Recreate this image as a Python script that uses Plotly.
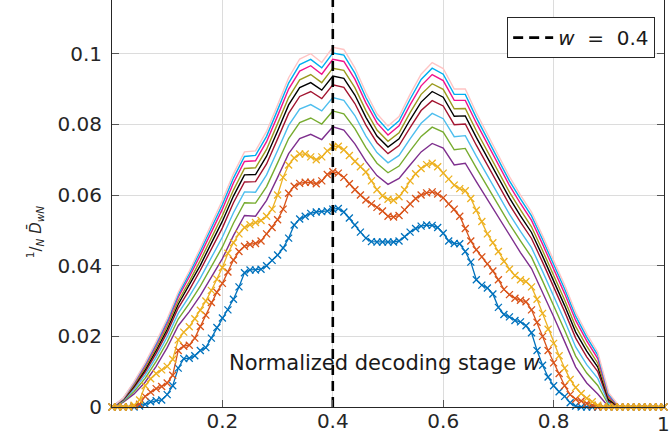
import plotly.graph_objects as go

# ---------------- data ----------------
# fine grid (marker series)
X_FINE = [0.00, 0.01, 0.02, 0.03, 0.04, 0.05, 0.06, 0.07, 0.08, 0.09,
          0.10, 0.11, 0.12, 0.13, 0.14, 0.15, 0.16, 0.17, 0.18, 0.19,
          0.20, 0.21, 0.22, 0.23, 0.24, 0.25, 0.26, 0.27, 0.28, 0.29,
          0.30, 0.31, 0.32, 0.33, 0.34, 0.35, 0.36, 0.37, 0.38, 0.39,
          0.40, 0.41, 0.42, 0.43, 0.44, 0.45, 0.46, 0.47, 0.48, 0.49,
          0.50, 0.51, 0.52, 0.53, 0.54, 0.55, 0.56, 0.57, 0.58, 0.59,
          0.60, 0.61, 0.62, 0.63, 0.64, 0.65, 0.66, 0.67, 0.68, 0.69,
          0.70, 0.71, 0.72, 0.73, 0.74, 0.75, 0.76, 0.77, 0.78, 0.79,
          0.80, 0.81, 0.82, 0.83, 0.84, 0.85, 0.86, 0.87, 0.88, 0.89,
          0.90, 0.91, 0.92, 0.93, 0.94, 0.95, 0.96, 0.97, 0.98, 0.99, 1.00]

BLUE = [0, 0, 0, 0, 0, 0.0003, 0.0008, 0.0015, 0.0018, 0.0020,
        0.0035, 0.0060, 0.0110, 0.0137, 0.0138, 0.0145, 0.0160, 0.0168, 0.0195, 0.0225,
        0.0252, 0.0275, 0.0305, 0.0340, 0.0380, 0.0388, 0.0388, 0.0390, 0.0400, 0.0415,
        0.0430, 0.0450, 0.0478, 0.0515, 0.0532, 0.0540, 0.0548, 0.0552, 0.0553, 0.0555,
        0.0560, 0.0562, 0.0552, 0.0535, 0.0515, 0.0495, 0.0478, 0.0468, 0.0467, 0.0467,
        0.0467, 0.0467, 0.0470, 0.0482, 0.0495, 0.0505, 0.0512, 0.0515, 0.0514, 0.0508,
        0.0492, 0.0470, 0.0463, 0.0462, 0.0440, 0.0410, 0.0360, 0.0345, 0.0337, 0.0320,
        0.0282, 0.0262, 0.0255, 0.0245, 0.0241, 0.0230, 0.0210, 0.0160, 0.0118, 0.0085,
        0.0060, 0.0043, 0.0030, 0.0012, 0.0003, 0, 0, 0, 0, 0,
        0, 0, 0, 0, 0, 0, 0, 0, 0, 0, 0]

ORANGE = [0, 0, 0, 0, 0.0003, 0.0008, 0.0030, 0.0042, 0.0052, 0.0058,
          0.0068, 0.0090, 0.0160, 0.0172, 0.0175, 0.0195, 0.0228, 0.0260, 0.0296, 0.0325,
          0.0350, 0.0382, 0.0416, 0.0440, 0.0455, 0.0460, 0.0463, 0.0470, 0.0490, 0.0508,
          0.0530, 0.0560, 0.0605, 0.0625, 0.0633, 0.0636, 0.0636, 0.0632, 0.0640, 0.0658,
          0.0666, 0.0662, 0.0650, 0.0632, 0.0615, 0.0600, 0.0586, 0.0575, 0.0565, 0.0555,
          0.0540, 0.0538, 0.0542, 0.0558, 0.0575, 0.0590, 0.0600, 0.0606, 0.0609, 0.0603,
          0.0592, 0.0575, 0.0560, 0.0540, 0.0505, 0.0470, 0.0445, 0.0425, 0.0405, 0.0385,
          0.0360, 0.0333, 0.0318, 0.0308, 0.0302, 0.0298, 0.0275, 0.0240, 0.0200, 0.0160,
          0.0125, 0.0095, 0.0060, 0.0035, 0.0022, 0.0017, 0.0010, 0.0005, 0, 0,
          0, 0, 0, 0, 0, 0, 0, 0, 0, 0, 0]

YELLOW = [0, 0, 0, 0, 0.0005, 0.0020, 0.0060, 0.0080, 0.0095, 0.0105,
          0.0115, 0.0135, 0.0190, 0.0212, 0.0227, 0.0250, 0.0274, 0.0300, 0.0330, 0.0362,
          0.0395, 0.0435, 0.0465, 0.0490, 0.0508, 0.0516, 0.0522, 0.0528, 0.0540, 0.0560,
          0.0600, 0.0650, 0.0685, 0.0705, 0.0716, 0.0716, 0.0708, 0.0700, 0.0708, 0.0725,
          0.0736, 0.0738, 0.0728, 0.0712, 0.0695, 0.0680, 0.0665, 0.0640, 0.0615, 0.0598,
          0.0588, 0.0585, 0.0595, 0.0615, 0.0640, 0.0660, 0.0675, 0.0686, 0.0690, 0.0680,
          0.0662, 0.0645, 0.0628, 0.0618, 0.0612, 0.0590, 0.0557, 0.0525, 0.0490, 0.0465,
          0.0440, 0.0412, 0.0390, 0.0372, 0.0360, 0.0355, 0.0340, 0.0305, 0.0265, 0.0220,
          0.0180, 0.0145, 0.0110, 0.0078, 0.0055, 0.0038, 0.0025, 0.0015, 0.0005, 0,
          0, 0, 0, 0, 0, 0, 0, 0, 0, 0, 0]

# coarse grid (plain line series)
X_COARSE = [0.00, 0.02, 0.04, 0.06, 0.08, 0.10, 0.12, 0.14, 0.16, 0.18,
            0.20, 0.22, 0.24, 0.26, 0.28, 0.30, 0.32, 0.34, 0.36, 0.38,
            0.40, 0.42, 0.44, 0.46, 0.48, 0.50, 0.52, 0.54, 0.56, 0.58,
            0.60, 0.62, 0.64, 0.66, 0.68, 0.70, 0.72, 0.74, 0.76, 0.78,
            0.80, 0.82, 0.84, 0.86, 0.88, 0.90, 0.92, 0.94, 0.96, 0.98, 1.00]

PURPLE = [0, 0.0013, 0.0037, 0.0070, 0.0115, 0.0168, 0.0230, 0.0270, 0.0315, 0.0368,
          0.0420, 0.0485, 0.0542, 0.0540, 0.0585, 0.0650, 0.0717, 0.0760, 0.0772, 0.0757,
          0.0793, 0.0784, 0.0745, 0.0695, 0.0655, 0.0630, 0.0647, 0.0685, 0.0722, 0.0746,
          0.0733, 0.0685, 0.0690, 0.0638, 0.0587, 0.0535, 0.0484, 0.0437, 0.0392, 0.0325,
          0.0256, 0.0185, 0.0113, 0.0068, 0.0037, 0, 0, 0, 0, 0, 0]
GREEN = [0, 0.0015, 0.0044, 0.0081, 0.0129, 0.0184, 0.0249, 0.0293, 0.0342, 0.0398,
         0.0453, 0.0520, 0.0578, 0.0577, 0.0624, 0.0691, 0.0760, 0.0805, 0.0818, 0.0801,
         0.0838, 0.0830, 0.0788, 0.0734, 0.0690, 0.0663, 0.0682, 0.0725, 0.0766, 0.0792,
         0.0778, 0.0728, 0.0732, 0.0677, 0.0624, 0.0570, 0.0518, 0.0470, 0.0424, 0.0357,
         0.0288, 0.0217, 0.0144, 0.0096, 0.0061, 0.0005, 0, 0, 0, 0, 0]
LIGHTBLUE = [0, 0.0017, 0.0050, 0.0090, 0.0141, 0.0198, 0.0265, 0.0313, 0.0365, 0.0423,
             0.0481, 0.0550, 0.0609, 0.0608, 0.0657, 0.0726, 0.0797, 0.0843, 0.0856, 0.0838,
             0.0876, 0.0868, 0.0825, 0.0767, 0.0720, 0.0691, 0.0712, 0.0759, 0.0803, 0.0831,
             0.0816, 0.0765, 0.0768, 0.0710, 0.0655, 0.0600, 0.0546, 0.0497, 0.0451, 0.0384,
             0.0315, 0.0244, 0.0170, 0.0120, 0.0081, 0.0010, 0, 0, 0, 0, 0]
DARKRED = [0, 0.0019, 0.0056, 0.0099, 0.0152, 0.0211, 0.0280, 0.0331, 0.0387, 0.0447,
           0.0507, 0.0578, 0.0637, 0.0638, 0.0688, 0.0759, 0.0831, 0.0879, 0.0893, 0.0873,
           0.0912, 0.0905, 0.0859, 0.0798, 0.0748, 0.0717, 0.0740, 0.0791, 0.0839, 0.0867,
           0.0852, 0.0799, 0.0801, 0.0741, 0.0685, 0.0628, 0.0573, 0.0523, 0.0477, 0.0410,
           0.0341, 0.0270, 0.0195, 0.0142, 0.0100, 0.0015, 0, 0, 0, 0, 0]
BLACK = [0, 0.0021, 0.0059, 0.0105, 0.0160, 0.0220, 0.0291, 0.0344, 0.0401, 0.0464,
         0.0526, 0.0597, 0.0657, 0.0658, 0.0710, 0.0781, 0.0855, 0.0904, 0.0918, 0.0897,
         0.0937, 0.0930, 0.0883, 0.0820, 0.0767, 0.0736, 0.0759, 0.0813, 0.0863, 0.0893,
         0.0877, 0.0823, 0.0824, 0.0763, 0.0705, 0.0647, 0.0592, 0.0541, 0.0494, 0.0427,
         0.0358, 0.0287, 0.0212, 0.0158, 0.0113, 0.0020, 0, 0, 0, 0, 0]
OLIVE = [0, 0.0022, 0.0063, 0.0111, 0.0167, 0.0229, 0.0300, 0.0355, 0.0415, 0.0479,
         0.0542, 0.0614, 0.0675, 0.0677, 0.0729, 0.0802, 0.0876, 0.0926, 0.0941, 0.0918,
         0.0959, 0.0953, 0.0904, 0.0839, 0.0784, 0.0752, 0.0776, 0.0833, 0.0885, 0.0915,
         0.0899, 0.0844, 0.0845, 0.0782, 0.0724, 0.0664, 0.0608, 0.0558, 0.0510, 0.0443,
         0.0374, 0.0303, 0.0228, 0.0172, 0.0124, 0.0025, 0, 0, 0, 0, 0]
MAGENTA = [0, 0.0023, 0.0067, 0.0117, 0.0175, 0.0238, 0.0311, 0.0368, 0.0430, 0.0495,
           0.0560, 0.0634, 0.0695, 0.0697, 0.0751, 0.0824, 0.0900, 0.0951, 0.0966, 0.0942,
           0.0984, 0.0978, 0.0928, 0.0861, 0.0804, 0.0770, 0.0796, 0.0855, 0.0909, 0.0941,
           0.0924, 0.0868, 0.0868, 0.0804, 0.0744, 0.0684, 0.0627, 0.0576, 0.0528, 0.0461,
           0.0392, 0.0321, 0.0245, 0.0187, 0.0137, 0.0030, 0, 0, 0, 0, 0]
CYAN = [0, 0.0024, 0.0070, 0.0121, 0.0180, 0.0244, 0.0318, 0.0377, 0.0441, 0.0507,
        0.0573, 0.0648, 0.0709, 0.0712, 0.0766, 0.0841, 0.0917, 0.0969, 0.0984, 0.0960,
        0.1002, 0.0996, 0.0945, 0.0876, 0.0818, 0.0783, 0.0810, 0.0871, 0.0927, 0.0959,
        0.0942, 0.0885, 0.0885, 0.0819, 0.0759, 0.0698, 0.0640, 0.0589, 0.0541, 0.0474,
        0.0405, 0.0334, 0.0257, 0.0198, 0.0147, 0.0035, 0, 0, 0, 0, 0]
PINK = [0, 0.0025, 0.0072, 0.0125, 0.0185, 0.0250, 0.0325, 0.0385, 0.0450, 0.0518,
        0.0585, 0.0660, 0.0722, 0.0725, 0.0780, 0.0855, 0.0932, 0.0985, 0.1000, 0.0975,
        0.1018, 0.1012, 0.0960, 0.0890, 0.0830, 0.0795, 0.0822, 0.0885, 0.0942, 0.0975,
        0.0958, 0.0900, 0.0900, 0.0833, 0.0772, 0.0710, 0.0652, 0.0600, 0.0552, 0.0485,
        0.0416, 0.0345, 0.0268, 0.0208, 0.0155, 0.0040, 0, 0, 0, 0, 0]

W_MARK = 0.4
LEGEND_LABEL = "<i>w</i>\u00a0\u00a0=\u00a0\u00a00.4"
X_TICKS = [0.2, 0.4, 0.6, 0.8]
X_TICKTEXT = ["0.2", "0.4", "0.6", "0.8"]
X_LAST_TICK = 1.0
X_LAST_TEXT = "1"
Y_TICKS = [0, 0.02, 0.04, 0.06, 0.08, 0.1]
Y_TICKTEXT = ["0", "0.02", "0.04", "0.06", "0.08", "0.1"]
Y_MAX = 0.1152
X_TITLE = "Normalized decoding stage <i>w</i>"
Y_TITLE = "<sup>1</sup>/<sub><i>N</i></sub> <i>D\u0304</i><sub><i>wN</i></sub>"

# ---------------- figure ----------------
fig = go.Figure()

line_series = [
    (PURPLE, "#7E2F8E"),
    (GREEN, "#77AC30"),
    (LIGHTBLUE, "#4DBEEE"),
    (DARKRED, "#A2142F"),
    (BLACK, "#000000"),
    (OLIVE, "#9A9A1E"),
    (MAGENTA, "#F0148C"),
    (CYAN, "#00AEEF"),
    (PINK, "#FFC4C4"),
]
for ys, col in line_series:
    fig.add_trace(go.Scatter(x=X_COARSE, y=ys, mode="lines",
                             line=dict(color=col, width=1.4),
                             showlegend=False, hoverinfo="skip", cliponaxis=False))

marker_series = [
    (BLUE, "#0072BD"),
    (ORANGE, "#D95319"),
    (YELLOW, "#EDB120"),
]
for ys, col in marker_series:
    fig.add_trace(go.Scatter(x=X_FINE, y=ys, mode="lines+markers",
                             line=dict(color=col, width=1.3),
                             marker=dict(symbol="x-thin", size=7,
                                         line=dict(color=col, width=1.3)),
                             showlegend=False, hoverinfo="skip", cliponaxis=False))

fig.add_trace(go.Scatter(x=[W_MARK, W_MARK], y=[0, Y_MAX], mode="lines",
                         line=dict(color="black", width=2.6, dash="10px,6px"),
                         name=LEGEND_LABEL, showlegend=True, hoverinfo="skip"))

fig.add_annotation(x=0.495, y=0.108, xref="paper", yref="paper",
                   xanchor="center", yanchor="middle",
                   text=X_TITLE, showarrow=False,
                   font=dict(size=21, color="#1a1a1a"))
fig.add_annotation(x=-0.139, y=0.43, xref="paper", yref="paper",
                   xanchor="center", yanchor="middle",
                   text=Y_TITLE, textangle=-90, showarrow=False,
                   font=dict(size=15, color="#262626"))
# last x tick label sits on the right frame edge (partly outside, as in the source)
fig.add_annotation(x=X_LAST_TICK, y=0, xref="x", yref="paper",
                   xanchor="center", yanchor="top", yshift=-3, xshift=-1,
                   text=X_LAST_TEXT, showarrow=False,
                   font=dict(size=20, color="#262626"))

axis_common = dict(showgrid=True, gridcolor="#DCDCDC", gridwidth=1,
                   showline=True, linecolor="#262626", linewidth=1,
                   ticks="inside", ticklen=7,
                   tickcolor="#555555", zeroline=False, automargin=False,
                   ticklabeloverflow="allow")

fig.update_layout(
    width=669, height=435,
    margin=dict(l=112, r=5, t=0, b=28),
    paper_bgcolor="white", plot_bgcolor="white",
    font=dict(family="DejaVu Sans", size=20, color="#262626"),
    xaxis=dict(range=[0, 1], tickvals=X_TICKS, ticktext=X_TICKTEXT,
               ticklabelstandoff=-4, mirror=False, **axis_common),
    yaxis=dict(range=[0, Y_MAX], tickvals=Y_TICKS, ticktext=Y_TICKTEXT,
               ticklabelstandoff=5, mirror="ticks", **axis_common),
    legend=dict(x=0.984, y=0.958, xanchor="right", yanchor="top",
                bgcolor="white", bordercolor="#262626", borderwidth=1,
                font=dict(size=20, color="#1a1a1a"), itemwidth=40),
)

fig.write_html("out.html",
               config={"displayModeBar": False},
               post_script="document.body.style.margin='0px';")
